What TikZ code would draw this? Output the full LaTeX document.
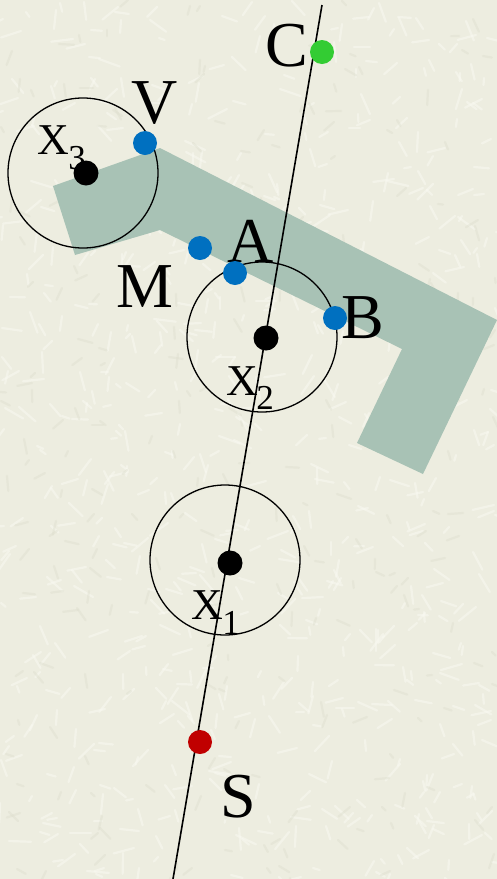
\documentclass[tikz,border=0pt]{standalone}
\usepackage{fontspec}
\setmainfont{Liberation Serif}
\definecolor{bgcol}{HTML}{EDEDE0}
\definecolor{texlight}{HTML}{F9F9F1}
\definecolor{texdark}{HTML}{DCDDCC}
\definecolor{bandcol}{HTML}{A8C2B5}
\definecolor{bluedot}{HTML}{0070C0}
\definecolor{greendot}{HTML}{33CC33}
\definecolor{reddot}{HTML}{C00000}
\tikzset{
  dotstyle/.style={circle, inner sep=0pt, minimum size=24pt},
  bigdot/.style={dotstyle, fill=black, minimum size=25pt},
  bluepoint/.style={dotstyle, fill=bluedot},
  biglabel/.style={inner sep=0pt, font=\fontsize{64}{64}\selectfont},
  xlabel/.style={inner sep=0pt, font=\fontsize{44}{44}\selectfont},
  sublabel/.style={inner sep=0pt, font=\fontsize{35}{35}\selectfont, anchor=west},
  ring/.style={draw=black, line width=1.3pt},
  texstroke/.style={line width=2.2pt, line cap=round, opacity=0.55},
}
\begin{document}
\begin{tikzpicture}[x=1pt,y=-1pt]
\fill[bgcol] (0,0) rectangle (497,879);
\useasboundingbox (0,0) rectangle (497,879);
% background texture
\begin{scope}
\clip (0,0) rectangle (497,879);
\pgfmathsetseed{11}
\foreach \i in {1,...,700}{
  \pgfmathsetmacro{\px}{random(0,497)}
  \pgfmathsetmacro{\py}{random(0,879)}
  \pgfmathsetmacro{\ang}{random(0,179)}
  \pgfmathsetmacro{\len}{random(6,22)}
  \draw[texstroke, texlight] (\px,\py) -- ++(\ang:\len);
}
\foreach \i in {1,...,250}{
  \pgfmathsetmacro{\px}{random(0,497)}
  \pgfmathsetmacro{\py}{random(0,879)}
  \pgfmathsetmacro{\ang}{random(0,179)}
  \pgfmathsetmacro{\len}{random(5,15)}
  \draw[texstroke, texdark, opacity=0.4] (\px,\py) -- ++(\ang:\len);
}
\end{scope}
% band
\fill[bandcol] (53,186) -- (160,148) -- (497,320) -- (423,474) -- (357,443) -- (402,349) -- (160,230) -- (75,255) -- cycle;
% circles
\draw[ring] (83,173) circle[radius=75];
\draw[ring] (262,337) circle[radius=75];
\draw[ring] (225,560) circle[radius=75];
% line
\coordinate (top) at (322,5);
\coordinate (bot) at (173,879);
\draw[line width=1.6pt] (top) -- (bot);
% labels
\node[biglabel] (lC) at (287,46) {C};
\node[biglabel] (lV) at (155,103) {V};
\node[biglabel] (lA) at (251,241) {A};
\node[biglabel] (lM) at (145,287) {M};
\node[biglabel] (lB) at (363,318) {B};
\node[biglabel] (lS) at (238,797) {S};
\node[xlabel] (x3) at (53,140) {X};
\node[sublabel] (s3) at ([xshift=-1pt,yshift=-18pt]x3.east) {3};
\node[xlabel] (x2) at (242,381) {X};
\node[sublabel] (s2) at ([xshift=-2pt,yshift=-17pt]x2.east) {2};
\node[xlabel] (x1) at (207,605) {X};
\node[sublabel] (s1) at ([xshift=-1pt,yshift=-18pt]x1.east) {1};
% points
\node[bigdot] (X3) at (86,173) {};
\node[bigdot] (X2) at (266,338) {};
\node[bigdot] (X1) at (230,563) {};
\node[bluepoint] (V) at (145,143) {};
\node[bluepoint] (M) at (200,248) {};
\node[bluepoint] (A) at (235,273) {};
\node[bluepoint] (B) at (335,318) {};
\node[dotstyle, fill=greendot] (C) at (322,52) {};
\node[dotstyle, fill=reddot] (S) at (200,742) {};
\end{tikzpicture}
\end{document}
